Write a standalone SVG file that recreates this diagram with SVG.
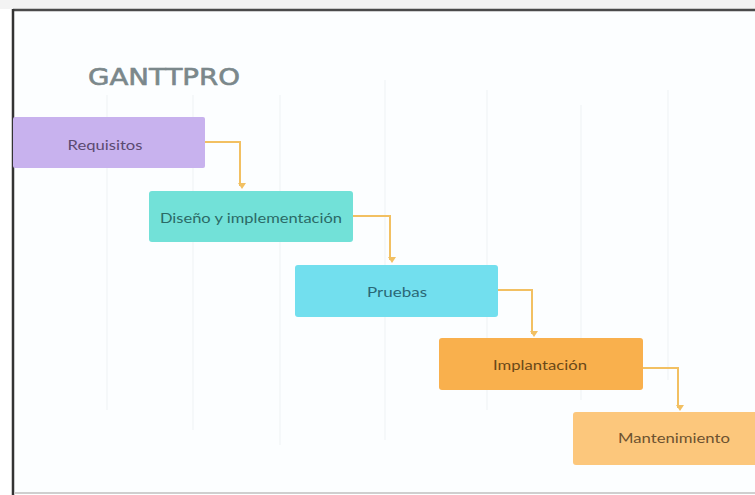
<svg xmlns="http://www.w3.org/2000/svg" width="755" height="495" viewBox="0 0 755 495">
<defs>
<style>
.grid{stroke:#f0f4f6;stroke-width:1.2}
.conn{fill:none;stroke:#f2c062;stroke-width:2}
.lbl{font-family:Lato,"Open Sans",sans-serif;font-size:13px;text-anchor:middle;dominant-baseline:central}
</style>
<marker id="ah" markerWidth="8" markerHeight="8" refX="4" refY="6" orient="auto" markerUnits="userSpaceOnUse" viewBox="0 0 8 8">
<path d="M0,1 L4,7 L8,1 Z" fill="#f2c062" transform="rotate(-90 4 4)"/>
</marker>
</defs>
<rect x="0" y="0" width="755" height="495" fill="#ffffff"/>
<rect x="0" y="0" width="755" height="9" fill="#f3f3f3"/>
<rect x="14" y="11" width="741" height="481" fill="#fcfeff"/>
<g id="grid">
<line class="grid" x1="107" y1="95" x2="107" y2="410"/>
<line class="grid" x1="193" y1="95" x2="193" y2="430"/>
<line class="grid" x1="280" y1="95" x2="280" y2="445"/>
<line class="grid" x1="385" y1="80" x2="385" y2="440"/>
<line class="grid" x1="487" y1="90" x2="487" y2="410"/>
<line class="grid" x1="581" y1="105" x2="581" y2="400"/>
<line class="grid" x1="668" y1="90" x2="668" y2="380"/>
</g>
<g id="frame">
<line x1="13" y1="10" x2="755" y2="10" stroke="#4a4a4a" stroke-width="2.5"/>
<line x1="13" y1="9" x2="13" y2="495" stroke="#333" stroke-width="2.5"/>
<line x1="14" y1="493" x2="755" y2="493" stroke="#cfcfcf" stroke-width="2"/>
</g>
<text id="title" x="88" y="85" font-family="'DejaVu Sans',sans-serif" font-size="23" font-weight="normal" fill="#7b888b" stroke="#7b888b" stroke-width="0.6" textLength="152" lengthAdjust="spacingAndGlyphs">GANTTPRO</text>
<g id="connectors">
<path class="conn" d="M205,142 H240 V186" marker-end="url(#ah)"/>
<path class="conn" d="M353,216 H390 V260" marker-end="url(#ah)"/>
<path class="conn" d="M498,290 H532 V334" marker-end="url(#ah)"/>
<path class="conn" d="M643,368 H678 V408" marker-end="url(#ah)"/>
</g>
<g id="requisitos">
<rect x="13" y="117" width="192" height="51" rx="2" fill="#c8b2ee"/>
<text class="lbl" x="105" y="145" fill="#5b4a70" textLength="75" lengthAdjust="spacingAndGlyphs">Requisitos</text>
</g>
<g id="diseno">
<rect x="149" y="191" width="204" height="51" rx="3" fill="#72e1d8"/>
<text class="lbl" x="251" y="218" fill="#2b6a66" textLength="182" lengthAdjust="spacingAndGlyphs">Diseño y implementación</text>
</g>
<g id="pruebas">
<rect x="295" y="265" width="203" height="52" rx="3" fill="#72dfee"/>
<text class="lbl" x="397" y="292" fill="#2a6876" textLength="60" lengthAdjust="spacingAndGlyphs">Pruebas</text>
</g>
<g id="implantacion">
<rect x="439" y="338" width="204" height="52" rx="3" fill="#f9b04d"/>
<text class="lbl" x="540" y="365" fill="#6a4818" textLength="94" lengthAdjust="spacingAndGlyphs">Implantación</text>
</g>
<g id="mantenimiento">
<rect x="573" y="412" width="184" height="53" rx="3" fill="#fcc77c"/>
<text class="lbl" x="674" y="438" fill="#6c5230" textLength="112" lengthAdjust="spacingAndGlyphs">Mantenimiento</text>
</g>
</svg>
